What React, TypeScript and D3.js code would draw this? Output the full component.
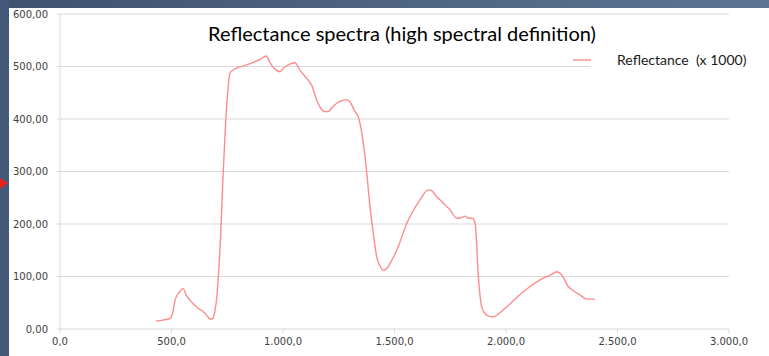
import React from 'react';
import * as d3 from 'd3';

// wavelength (nm) and reflectance (x 1000)
const wavelengths = [430, 460, 493, 505, 516, 535, 553, 565, 583, 600, 620, 643, 660, 673, 685, 695, 703, 710, 720, 730, 740, 750, 762, 775, 792, 830, 867, 900, 924, 945, 964, 987, 1005, 1024, 1054, 1076, 1099, 1113, 1128, 1151, 1170, 1188, 1203, 1220, 1241, 1265, 1285, 1300, 1323, 1338, 1360, 1375, 1390, 1405, 1420, 1435, 1450, 1465, 1480, 1517, 1555, 1577, 1614, 1652, 1665, 1689, 1704, 1730, 1749, 1779, 1800, 1816, 1831, 1850, 1862, 1876, 1891, 1905, 1921, 1943, 1970, 2003, 2048, 2108, 2167, 2200, 2227, 2250, 2279, 2305, 2332, 2362, 2399];
const reflectance = [15, 17, 20, 30, 55, 70, 77, 65, 55, 47, 39, 33, 25, 19, 20, 35, 60, 100, 175, 280, 370, 440, 487, 493, 497, 502, 508, 514, 520, 505, 495, 490, 498, 503, 507, 493, 481, 474, 465, 436, 420, 414, 414, 422, 430, 435, 437, 433, 414, 404, 354, 300, 233, 182, 138, 120, 112, 115, 125, 157, 201, 220, 246, 265, 264, 252, 246, 235, 227, 211, 212, 215, 211, 211, 200, 100, 42, 30, 25, 23, 30, 42, 60, 81, 97, 103, 109, 103, 81, 72, 65, 57, 57];

const xTicks = [0, 500, 1000, 1500, 2000, 2500, 3000];
const yTicks = [0, 100, 200, 300, 400, 500, 600];

const title = 'Reflectance spectra (high spectral definition)';
const seriesName = 'Reflectance  (x 1000)';

const width = 769;
const height = 356;
const margin = { top: 14, right: 40, bottom: 27, left: 60 };

const lineColor = '#ff8c8c';
const gridColor = '#d9d9d9';

export default function App() {
  const x = d3.scaleLinear().domain([0, 3000]).range([margin.left, width - margin.right]);
  const y = d3.scaleLinear().domain([0, 600]).range([height - margin.bottom, margin.top]);

  const points = wavelengths.map((w, i) => [w, reflectance[i]] as [number, number]);
  const path = d3.line<[number, number]>()
    .x((d) => x(d[0]))
    .y((d) => y(d[1]))
    .curve(d3.curveMonotoneX)(points);

  const fmtY = (v: number) => d3.format(',.2f')(v).replace(/,/g, ' ').replace('.', ',').replace(/ /g, '.');
  const fmtX = (v: number) => d3.format(',.1f')(v).replace(/,/g, ' ').replace('.', ',').replace(/ /g, '.');

  return (
    <div style={{ position: 'fixed', left: 0, top: 0 }}>
      <svg width={width} height={height} style={{ display: 'block' }}>
        <defs>
          <linearGradient id="band" x1="0" x2="1" y1="0" y2="0">
            <stop offset="0" stopColor="#3f536e" />
            <stop offset="1" stopColor="#5d7593" />
          </linearGradient>
        </defs>
        <rect x={0} y={0} width={width} height={height} fill="#ffffff" />
        {/* slide background showing round the chart */}
        <rect x={0} y={0} width={width} height={8} fill="url(#band)" />
        <rect x={0} y={0} width={9} height={height} fill="#44597a" />
        <path d="M0,178 L8,183 L0,189 Z" fill="#e8231f" />

        {yTicks.map((t) => (
          <g key={t}>
            <line x1={margin.left - 3} x2={x(3000)} y1={y(t)} y2={y(t)} stroke={gridColor} strokeWidth={1} />
            <text x={48} y={y(t) + 3.5} textAnchor="end" fontFamily="DejaVu Sans" fontSize={10} fill="#404040">
              {fmtY(t)}
            </text>
          </g>
        ))}
        <line x1={x(0)} x2={x(0)} y1={y(600)} y2={y(0)} stroke={gridColor} strokeWidth={1} />
        {xTicks.map((t) => (
          <g key={t}>
            <line x1={x(t)} x2={x(t)} y1={y(0)} y2={y(0) + 4} stroke={gridColor} strokeWidth={1} />
            <text x={x(t)} y={y(0) + 16} textAnchor="middle" fontFamily="DejaVu Sans" fontSize={10} fill="#404040">
              {fmtX(t)}
            </text>
          </g>
        ))}

        <path d={path ?? ''} fill="none" stroke={lineColor} strokeWidth={1.4} />

        <text x={402} y={41} textAnchor="middle" fontFamily="Lato" fontSize={20} fill="#000000">
          {title}
        </text>

        <rect x={591} y={50} width={168} height={22} fill="#ffffff" />
        <line x1={573} x2={591} y1={60} y2={60} stroke={lineColor} strokeWidth={1.4} />
        <text x={617} y={65} fontFamily="Lato" fontSize={14} fill="#1a1a1a" style={{ whiteSpace: 'pre' }}>
          {seriesName}
        </text>
      </svg>
    </div>
  );
}
